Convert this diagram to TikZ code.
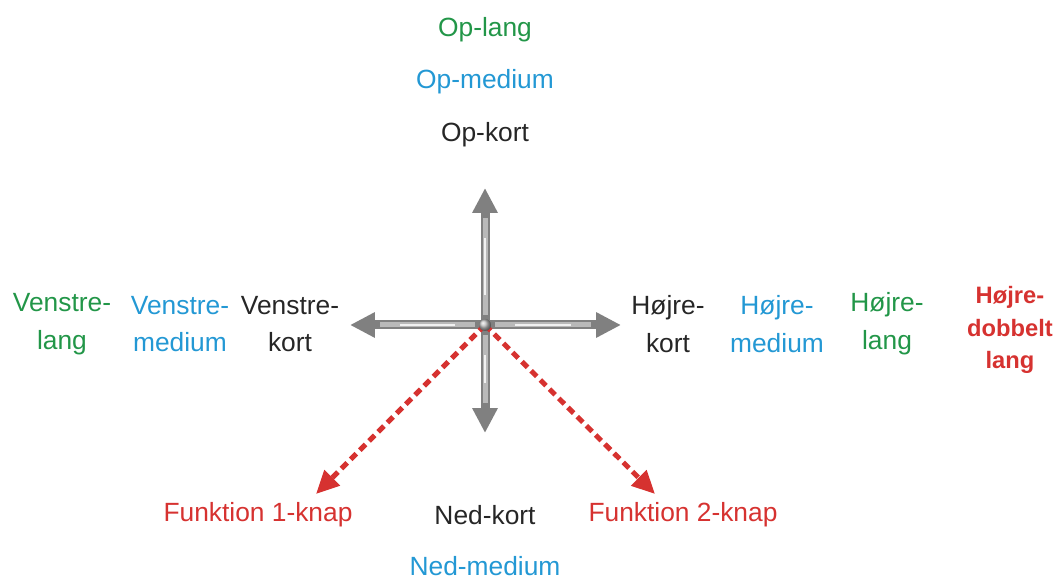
\documentclass[tikz,border=0pt]{standalone}
\usepackage{fontspec}
\setmainfont{Liberation Sans}
\usepackage{xcolor}
\definecolor{lblgreen}{RGB}{34,150,72}
\definecolor{lblblue}{RGB}{35,152,212}
\definecolor{lblred}{RGB}{214,50,48}
\definecolor{arrgray}{RGB}{128,128,128}
\usetikzlibrary{positioning,arrows.meta}

\begin{document}
\begin{tikzpicture}[
  x=0.02cm, y=-0.02cm,
  lbl/.style={font=\fontsize{15}{21.5}\selectfont, align=center, inner sep=1pt},
  kort/.style={lbl, text=black!85},
  medium/.style={lbl, text=lblblue},
  lang/.style={lbl, text=lblgreen},
  fkt/.style={lbl, text=lblred},
  joy/.style={line width=0.18cm, arrgray,
              -{Triangle[width=0.48cm, length=0.5cm]}},
  joymid/.style={line width=0.1cm, gray!55, shorten >=0.6cm, shorten <=0.2cm},
  joyhi/.style={line width=0.04cm, white, opacity=0.8, shorten >=1cm,
                shorten <=0.6cm},
  fktarrow/.style={line width=0.1cm, lblred, dash pattern=on 0.16cm off 0.1cm,
               -{Triangle[width=0.42cm, length=0.46cm]}},
]
\useasboundingbox (0,0) rectangle (1055,580);

% --- joystick ---
\coordinate (c) at (485,325);
\coordinate (tu) at (485,188);
\coordinate (td) at (485,433);
\coordinate (tl) at (350,325);
\coordinate (tr) at (621,325);
\coordinate (f1) at (316,494);
\coordinate (f2) at (655,494);

\foreach \t in {tu,td,tl,tr} {
  \draw[joy] (c) -- (\t);
  \draw[joymid] (c) -- (\t);
  \draw[joyhi] (c) -- (\t);
}

\draw[fktarrow] (c) -- (f1);
\draw[fktarrow] (c) -- (f2);
\shade[ball color=gray!50] (c) circle (6);

% --- up ---
\node[lang]   (ul) at (485,30)  {Op-lang};
\node[medium] (um) at (485,82)  {Op-medium};
\node[kort]   (uk) at (485,135) {Op-kort};

% --- left ---
\node[lang]   (ll) at (62,324)  {Venstre-\\lang};
\node[medium] (lm) at (180,324) {Venstre-\\medium};
\node[kort]   (lk) at (290,324) {Venstre-\\kort};

% --- right ---
\node[kort]   (rk) at (668,324) {Højre-\\kort};
\node[medium] (rm) at (777,324) {Højre-\\medium};
\node[lang]   (rl) at (887,324) {Højre-\\lang};
\node[fkt, font=\fontsize{13.5}{18.4}\selectfont\bfseries]
              (rd) at (1010,330) {Højre-\\dobbelt\\lang};

% --- down ---
\node[fkt]    (k1) at (258,515) {Funktion 1-knap};
\node[kort]   (dk) at (485,515) {Ned-kort};
\node[fkt]    (k2) at (683,515) {Funktion 2-knap};
\node[medium] (dm) at (485,566) {Ned-medium};
\end{tikzpicture}
\end{document}
